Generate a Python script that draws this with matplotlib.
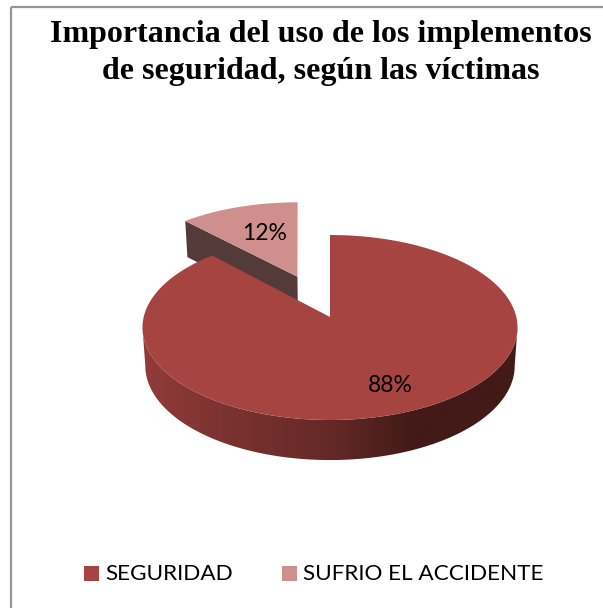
import numpy as np
import matplotlib
matplotlib.use("Agg")
import matplotlib.pyplot as plt
from matplotlib.colors import LinearSegmentedColormap
from matplotlib.patches import Polygon, Rectangle

W, H = 603, 608
title_lines = ["Importancia del uso de los implementos", "de seguridad, según las víctimas"]
categories = ["SEGURIDAD", "SUFRIO EL ACCIDENTE"]
values = [88, 12]
labels = ["88%", "12%"]
colors = ["#A64442", "#CE8F8D"]
wall_color = "#553A3A"

# projection of the pie disk (pixel space of the axes)
APEX = (330.0, 317.0)
A, B, K = 186.3, 91.3, 0.1135
EXPLODE = 0.5
LEAN = 0.04


def proj(u, v, bottom=False):
    w = 1 + K * v
    X, Y = A * u / w, B * v / w
    if bottom:
        X, Y = 0.985 * X, 1.02 * Y - 38
    return APEX[0] + X, APEX[1] - Y


def arc(start, end, off=(0, 0), bottom=False, n=300):
    t = np.radians(np.linspace(start, end, n))
    return proj(off[0] + np.sin(t), off[1] + np.cos(t), bottom)


fig = plt.figure(figsize=(W / 100, H / 100), dpi=100)
ax = fig.add_axes([0, 0, 1, 1])
ax.axis("off")

# chart frame
ax.add_patch(Rectangle((11, 7), 700, 700, fill=False, ec="#969696", lw=1.6))

angles = np.cumsum([0] + values) / sum(values) * 360

# exploded slice
a0, a1 = angles[1], angles[2]
mid = np.radians((a0 + a1) / 2)
off = (EXPLODE * np.sin(mid), EXPLODE * np.cos(mid))
x_t, y_t = arc(a0, a1, off)
ax0, ay0 = proj(*off)
x_t = x_t - LEAN * (ay0 - y_t)
bx0, by0 = proj(*off, bottom=True)
bx, by = proj(off[0] + np.sin(np.radians(a0)), off[1] + np.cos(np.radians(a0)), bottom=True)
bx = bx - LEAN * (ay0 - y_t[0])
ax.add_patch(Polygon([(x_t[0], y_t[0]), (ax0, ay0), (bx0, by0), (bx, by)], fc=wall_color, ec="none", zorder=2))
ax.fill(np.r_[ax0, x_t], np.r_[ay0, y_t], fc=colors[1], ec="none", zorder=3)

# main slice: outer wall with gradient, then top face
a0, a1 = angles[0], angles[1]
tangent = np.degrees(np.arcsin(K))
x_top, y_top = arc(90 + tangent, 270 - tangent, n=400)
x_bot, y_bot = arc(270 - tangent, 90 + tangent, bottom=True, n=400)
wall = Polygon(np.c_[np.r_[x_top, x_bot], np.r_[y_top, y_bot]], fc="none", ec="none", zorder=4)
ax.add_patch(wall)
cmap = LinearSegmentedColormap.from_list(
    "wall", [(0, "#913B39"), (0.18, "#7F3432"), (0.5, "#642927"), (0.72, "#431A18"), (1, "#431A18")]
)
grad = np.linspace(0, 1, 400).reshape(1, -1)
im = ax.imshow(grad, cmap=cmap, extent=(x_top.min(), x_top.max(), H, 0), aspect="auto", zorder=4)
im.set_clip_path(wall)
ax.set_xlim(0, W)
ax.set_ylim(H, 0)

x_m, y_m = arc(a0, a1)
ax.fill(np.r_[APEX[0], x_m], np.r_[APEX[1], y_m], fc=colors[0], ec="none", zorder=5)

# data labels
ax.text(265, 233, labels[1], ha="center", va="center", fontsize=16.5, family="Lato", color="black", zorder=6)
ax.text(390.5, 385.5, labels[0], ha="center", va="center", fontsize=16.5, family="Lato", color="black", zorder=6)

# title
for line, y in zip(title_lines, [42, 78.5]):
    ax.text(321, y, line, ha="center", va="baseline", fontsize=23, family="Liberation Serif",
            weight="bold", color="black", zorder=6)

# legend
for name, col, xs, xt in zip(categories, colors, [84, 282], [105, 303]):
    ax.add_patch(Rectangle((xs, 566), 15, 15, fc=col, ec="none"))
    ax.text(xt, 574, name, ha="left", va="center", fontsize=16.2, family="Lato", color="black")

fig.savefig("out.png", dpi=100, facecolor="white")
